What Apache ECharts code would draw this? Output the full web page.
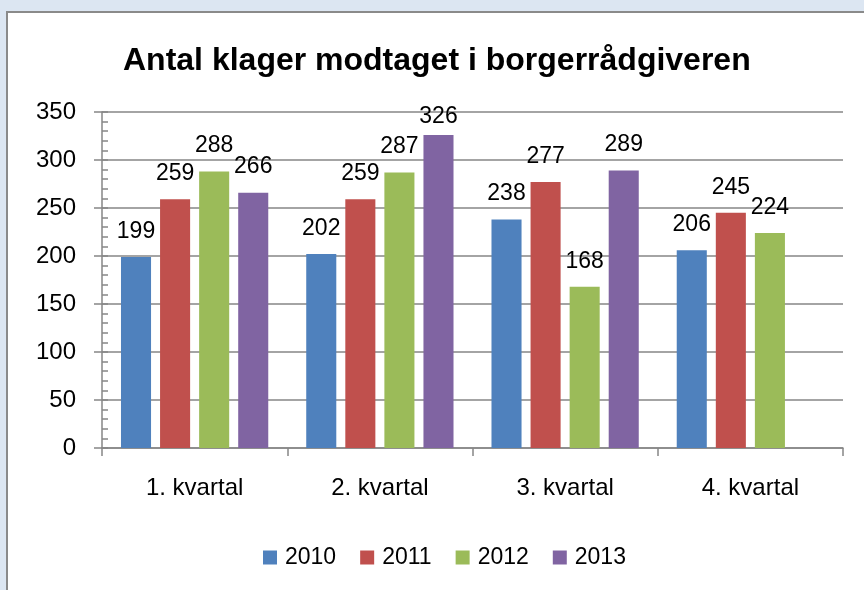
<!DOCTYPE html>
<html>
<head>
<meta charset="utf-8">
<script src="https://cdn.jsdelivr.net/npm/echarts@6/dist/echarts.min.js"></script>
<style>
html,body{margin:0;padding:0;background:#dce6f2;}
#main{width:864px;height:590px;}
</style>
</head>
<body>
<div id="main"></div>
<script>
// kategorier og værdier
var categories = ["1. kvartal", "2. kvartal", "3. kvartal", "4. kvartal"];
var years = ["2010", "2011", "2012", "2013"];
var values2010 = [199, 202, 238, 206];
var values2011 = [259, 259, 277, 245];
var values2012 = [288, 287, 168, 224];
var values2013 = [266, 326, 289, null];
var yTicks = [0, 50, 100, 150, 200, 250, 300, 350];

var colors = ["#4F81BD", "#C0504D", "#9BBB59", "#8064A2"];
var allValues = [values2010, values2011, values2012, values2013];
var font = "Liberation Sans";
var axisGray = "#868686";

// etiketter der sidder lidt lavere (tæt på toppen af plotområdet)
var labelNudge = {"3-1": 7};

var series = [];
for (var i = 0; i < years.length; i++) {
    var data = [];
    for (var j = 0; j < categories.length; j++) {
        var v = allValues[i][j];
        if (v === null) {
            data.push("-");
            continue;
        }
        var item = {value: v};
        if (labelNudge[i + "-" + j] !== undefined) {
            item.label = {distance: labelNudge[i + "-" + j]};
        }
        data.push(item);
    }
    series.push({
        name: years[i],
        type: "bar",
        data: data,
        barGap: "30%",
        barCategoryGap: "20.5%",
        itemStyle: {color: colors[i]},
        label: {
            show: true,
            position: "top",
            distance: 14,
            color: "#000",
            fontFamily: font,
            fontSize: 23
        }
    });
}

var myChart = echarts.init(document.getElementById("main"));
var option = {
    animation: false,
    backgroundColor: "#dce6f2",
    graphic: [{
        type: "rect",
        z: -10,
        shape: {x: 7, y: 12, width: 900, height: 620},
        style: {fill: "#fff", stroke: "#8a8a8a", lineWidth: 2}
    }],
    title: {
        text: "Antal klager modtaget i borgerrådgiveren",
        left: 123,
        top: 45,
        padding: 0,
        textStyle: {fontFamily: font, fontSize: 32, fontWeight: "bold", color: "#000"}
    },
    legend: {
        data: years,
        left: 263,
        top: 546,
        padding: 0,
        itemWidth: 14,
        itemHeight: 14,
        itemGap: 24,
        icon: "rect",
        textStyle: {fontFamily: font, fontSize: 23, color: "#000", padding: [0, 0, 0, 3]}
    },
    grid: {left: 102, right: 21, top: 112, bottom: 142, outerBoundsMode: "none"},
    xAxis: {
        type: "category",
        data: categories,
        axisLine: {lineStyle: {color: axisGray, width: 1.5}},
        axisTick: {show: true, length: 8, lineStyle: {color: axisGray, width: 1.5}},
        axisLabel: {fontFamily: font, fontSize: 24, color: "#000", margin: 28}
    },
    yAxis: [{
        type: "value",
        min: yTicks[0],
        max: yTicks[yTicks.length - 1],
        interval: 50,
        axisLine: {show: true, lineStyle: {color: axisGray, width: 1.5}},
        axisTick: {show: true, length: 8, lineStyle: {color: axisGray, width: 1.5}},
        axisLabel: {fontFamily: font, fontSize: 24, color: "#000", margin: 26},
        splitLine: {lineStyle: {color: axisGray, width: 1.5}}
    }, {
        // hjælpeakse kun til de små indvendige streger
        type: "value",
        position: "left",
        min: 0,
        max: 350,
        interval: 10,
        axisLine: {show: false},
        axisTick: {show: true, inside: true, length: 6, lineStyle: {color: axisGray, width: 1.5}},
        axisLabel: {show: false},
        splitLine: {show: false}
    }],
    series: series
};
myChart.setOption(option);
</script>
</body>
</html>
